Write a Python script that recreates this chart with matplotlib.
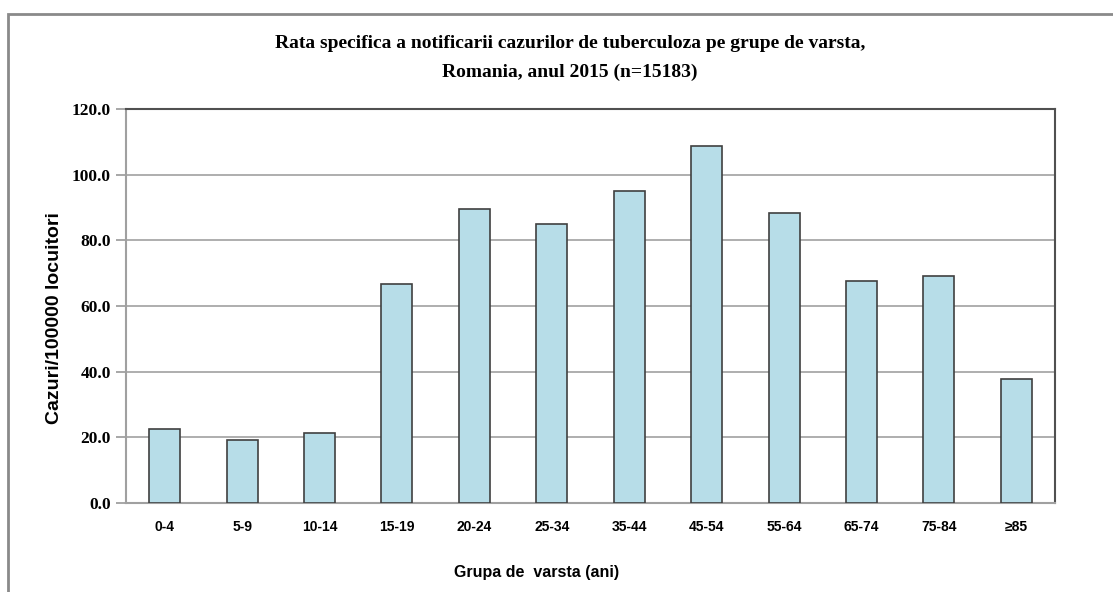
import matplotlib
matplotlib.use('Agg')
import matplotlib.pyplot as plt
from matplotlib.patches import Rectangle
import numpy as np

groups = ['0-4', '5-9', '10-14', '15-19', '20-24', '25-34', '35-44',
          '45-54', '55-64', '65-74', '75-84', '\u226585']
rates = [22.5, 19.2, 21.4, 66.8, 89.6, 85.0, 95.0, 108.7, 88.4, 67.6, 69.2, 37.8]
yticks = [0, 20, 40, 60, 80, 100, 120]

fig = plt.figure(figsize=(11.13, 5.92), dpi=100)
ax = fig.add_axes([126 / 1113, 89 / 592, 929 / 1113, 394 / 592])

x = np.arange(len(groups))
ax.bar(x, rates, width=0.4, color='#b7dde8', edgecolor='#404040', linewidth=1.2, zorder=3)

ax.set_xlim(-0.5, len(groups) - 0.5)
ax.set_ylim(0, 120)
ax.set_yticks(yticks)
ax.set_yticklabels(['%.1f' % v for v in yticks], fontfamily='Liberation Serif',
                   fontweight='bold', fontsize=12.5)
ax.set_xticks(x)
ax.set_xticklabels(groups, fontfamily='Liberation Sans', fontweight='bold', fontsize=10)
ax.tick_params(axis='x', length=0, pad=12)
ax.tick_params(axis='y', length=7, color='#a0a0a0', width=1.3, pad=4)
ax.yaxis.grid(True, color='#a8a8a8', linewidth=1.3, zorder=0)

for s in ['left', 'bottom']:
    ax.spines[s].set_color('#a0a0a0')
    ax.spines[s].set_linewidth(1.5)
for s in ['top', 'right']:
    ax.spines[s].set_color('#505050')
    ax.spines[s].set_linewidth(1.5)

fig.text(55 / 1113, 1 - 318 / 592, 'Cazuri/100000 locuitori', rotation=90,
         ha='center', va='center', fontfamily='Liberation Sans', fontweight='bold', fontsize=14)
fig.text(537 / 1113, 1 - 573 / 592, 'Grupa de  varsta (ani)', ha='center', va='center',
         fontfamily='Liberation Sans', fontweight='bold', fontsize=11.5)
fig.text(570 / 1113, 1 - 43 / 592, 'Rata specifica a notificarii cazurilor de tuberculoza pe grupe de varsta,',
         ha='center', va='center', fontfamily='Liberation Serif', fontweight='bold', fontsize=14)
fig.text(570 / 1113, 1 - 72 / 592, 'Romania, anul 2015 (n=15183)',
         ha='center', va='center', fontfamily='Liberation Serif', fontweight='bold', fontsize=14)

fig.patches.append(Rectangle((8 / 1113, -0.05), 1.1, 1 - 14 / 592 + 0.05, transform=fig.transFigure,
                             fill=False, edgecolor='#8a8a8a', linewidth=2))

fig.savefig('out.png', dpi=100)
